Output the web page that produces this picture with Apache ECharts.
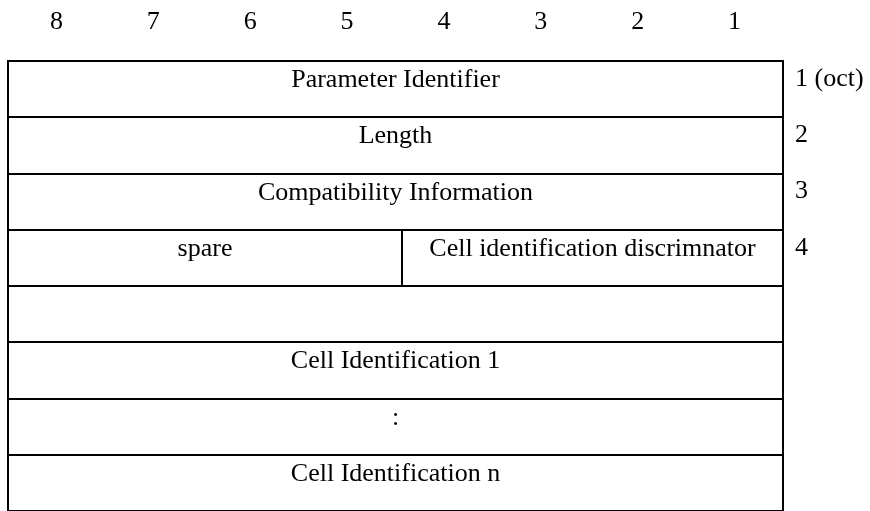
<!DOCTYPE html>
<html>
<head>
<meta charset="utf-8">
<script src="https://cdn.jsdelivr.net/npm/echarts@6/dist/echarts.min.js"></script>
<style>
html,body{margin:0;padding:0;background:#fff;}
#chart{width:870px;height:511px;}
</style>
</head>
<body>
<div id="chart"></div>
<script>
// Bit numbers across the top (most significant first)
const bitLabels = ['8', '7', '6', '5', '4', '3', '2', '1'];

// Cells of the parameter layout: bit span (0 = left edge, 8 = right edge) and row
const cellLabels = ['Parameter Identifier', 'Length', 'Compatibility Information', 'spare', 'Cell identification discrimnator', '', 'Cell Identification 1', ':', 'Cell Identification n'];
const cellStart  = [0, 0, 0, 0, 4.07, 0, 0, 0, 0];
const cellEnd    = [8, 8, 8, 4.07, 8, 8, 8, 8, 8];
const cellRow    = [0, 1, 2, 3, 3, 4, 5, 6, 7];

// Octet numbers on the right
const octetLabels = ['1 (oct)', '2', '3', '4'];
const octetRow    = [0, 1, 2, 3];

const FONT_FAMILY = '"Liberation Serif", "Times New Roman", serif';
const FONT_SIZE = 26;

const chart = echarts.init(document.getElementById('chart'), null, {renderer: 'canvas'});

const cellData = cellLabels.map((_, i) => [cellStart[i], cellEnd[i], cellRow[i]]);
const octetData = octetLabels.map((_, i) => [8, octetRow[i]]);

chart.setOption({
  backgroundColor: '#ffffff',
  animation: false,
  grid: {left: 8, top: 61, width: 775, height: 453, containLabel: false},
  xAxis: [
    {
      type: 'category', data: bitLabels, position: 'top', boundaryGap: true,
      axisLine: {show: false}, axisTick: {show: false}, splitLine: {show: false},
      axisLabel: {color: '#000', fontFamily: FONT_FAMILY, fontSize: FONT_SIZE, margin: 26}
    },
    {
      type: 'value', min: 0, max: 8, show: false
    }
  ],
  yAxis: {type: 'value', min: 0, max: 8, inverse: true, show: false},
  series: [
    {
      type: 'custom',
      xAxisIndex: 1, yAxisIndex: 0,
      clip: false,
      data: cellData,
      renderItem: function (params, api) {
        const x0 = api.value(0), x1 = api.value(1), r = api.value(2);
        const p0 = api.coord([x0, r]);
        const p1 = api.coord([x1, r + 1]);
        const xa = Math.round(p0[0]), xb = Math.round(p1[0]);
        const ya = Math.round(p0[1]), yb = Math.round(p1[1]);
        return {
          type: 'group',
          children: [
            {
              type: 'rect',
              shape: {x: xa, y: ya, width: xb - xa, height: yb - ya},
              style: {fill: '#fff', stroke: '#000', lineWidth: 2}
            },
            {
              type: 'text',
              x: (xa + xb) / 2, y: ya + 19,
              style: {
                text: cellLabels[params.dataIndex],
                fill: '#000', fontFamily: FONT_FAMILY, fontSize: FONT_SIZE,
                align: 'center', verticalAlign: 'middle'
              }
            }
          ]
        };
      }
    },
    {
      type: 'custom',
      xAxisIndex: 1, yAxisIndex: 0,
      clip: false,
      data: octetData,
      renderItem: function (params, api) {
        const p = api.coord([api.value(0), api.value(1)]);
        return {
          type: 'text',
          x: p[0] + 12, y: p[1] + 18,
          style: {
            text: octetLabels[params.dataIndex],
            fill: '#000', fontFamily: FONT_FAMILY, fontSize: FONT_SIZE,
            align: 'left', verticalAlign: 'middle'
          }
        };
      }
    }
  ]
});
</script>
</body>
</html>
